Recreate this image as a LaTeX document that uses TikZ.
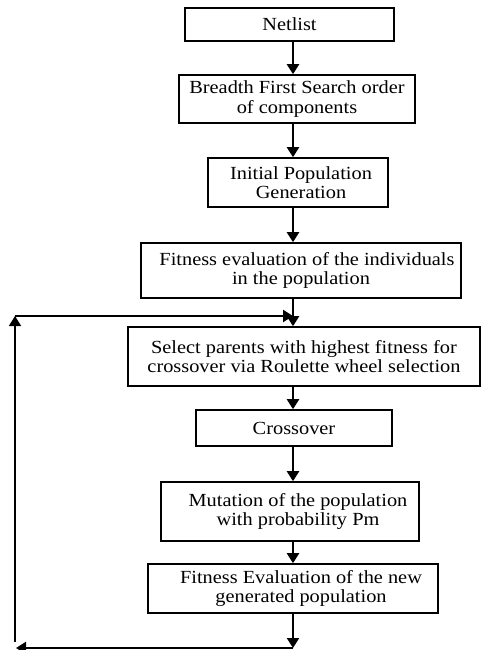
\documentclass[tikz,border=0pt]{standalone}
\usepackage{fontspec}
\setmainfont[FakeStretch=1.1]{Liberation Serif}
\usepackage{tikz}
\usetikzlibrary{positioning, calc, arrows.meta}

\begin{document}
\begin{tikzpicture}
		[x=1pt, y=-1pt,
		 comp/.style = {draw, line width=1.6pt, rectangle, inner sep=0pt, align=center, font=\fontsize{18.5}{19.5}\selectfont},
		 flow/.style = {line width=2.2pt, -{Triangle[length=10pt, width=12pt]}}]
		\useasboundingbox (0,0) rectangle (481,650);
		\node[comp, minimum width=209pt, minimum height=33pt] (netlist) at (289.5,24.5) {Netlist};
		\node[comp, minimum width=236pt, minimum height=48pt] (bfs) at (297,99) {Breadth First Search order\\of components};
		\node[comp, minimum width=180pt, minimum height=49pt] (init) at (298,182.5) {\hspace*{6pt}Initial Population\\\hspace*{6pt}Generation};
		\node[comp, minimum width=320pt, minimum height=55pt] (fitness) at (301,270.5) {\hspace*{12pt}Fitness evaluation of the individuals\\in the population};
		\node[comp, minimum width=352pt, minimum height=59pt] (select) at (304,356.5) {Select parents with highest fitness for\\crossover via Roulette wheel selection};
		\node[comp, minimum width=196pt, minimum height=36pt] (cross) at (294,428) {Crossover};
		\node[comp, minimum width=258pt, minimum height=59pt] (mut) at (290,511.5) {\hspace*{16pt}Mutation of the population\\\hspace*{16pt}with probability Pm};
		\node[comp, minimum width=290pt, minimum height=49pt] (fitnew) at (293,588.5) {\hspace*{16pt}Fitness Evaluation of the new\\\hspace*{16pt}generated population};
		\coordinate (spine) at (293,0);
		\coordinate (loopbot) at (293,648);
		\coordinate (loopbl) at (16,648);
		\coordinate (loopstart) at (15,642);
		\coordinate (looptl) at (15,316);
		\coordinate (loopin) at (293,316);

		\draw[flow] (netlist.south -| spine) -- (bfs.north -| spine);
		\draw[flow] (bfs.south -| spine) -- (init.north -| spine);
		\draw[flow] (init.south -| spine) -- (fitness.north -| spine);
		\draw[flow] (fitness.south -| spine) -- (select.north -| spine);
		\draw[flow] (select.south -| spine) -- (cross.north -| spine);
		\draw[flow] (cross.south -| spine) -- (mut.north -| spine);
		\draw[flow] (mut.south -| spine) -- (fitnew.north -| spine);
		\draw[flow] (fitnew.south -| spine) -- (loopbot);
		% feedback loop
		\draw[flow] (loopbot) -- (loopbl);
		\draw[flow, line width=1.6pt] (loopstart) -- (looptl);
		\draw[flow] (looptl) -- (loopin);
	\end{tikzpicture}
\end{document}
